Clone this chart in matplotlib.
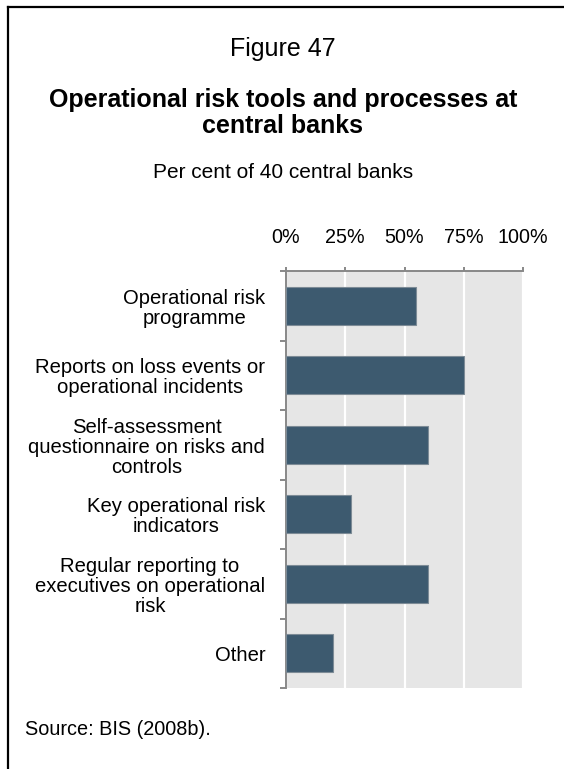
import matplotlib
matplotlib.use("Agg")
import matplotlib.pyplot as plt
from matplotlib.lines import Line2D

plt.rcParams['font.family'] = ['Liberation Sans', 'DejaVu Sans']

categories = [
    "Operational risk\nprogramme",
    "Reports on loss events or\noperational incidents",
    "Self-assessment\nquestionnaire on risks and\ncontrols",
    "Key operational risk\nindicators",
    "Regular reporting to\nexecutives on operational\nrisk",
    "Other",
]
shares = [55, 75, 60, 27.5, 60, 20]
tick_values = [0, 25, 50, 75, 100]
tick_labels = ["0%", "25%", "50%", "75%", "100%"]

W, H = 564, 769
fig = plt.figure(figsize=(W / 100, H / 100), dpi=100)

# plot area in pixel coordinates
left_px, right_px, top_px, bottom_px = 286, 523, 271, 688
ax = fig.add_axes([left_px / W, 1 - bottom_px / H,
                   (right_px - left_px) / W, (bottom_px - top_px) / H])

ax.set_facecolor('#e6e6e6')
ypos = list(range(len(categories)))
ax.barh(ypos, shares, height=0.54, color='#3d5a6f', edgecolor='#7d8b96',
        linewidth=0.8, zorder=3)

ax.set_xlim(0, 100)
ax.set_ylim(len(categories) - 0.5, -0.5)

ax.xaxis.tick_top()
ax.set_xticks(tick_values)
ax.set_xticklabels(tick_labels, fontsize=14.2)
ax.tick_params(axis='x', which='major', direction='out', length=3, width=1.4,
               color='#888888', pad=14.2, labelcolor='black')
ax.grid(axis='x', color='white', linewidth=1.6, zorder=1)
ax.set_axisbelow(True)

ax.set_yticks(ypos)
ax.set_yticklabels(categories, fontsize=14.6, ha='right',
                   multialignment='center', linespacing=1.08)
ax.tick_params(axis='y', which='major', length=0, pad=15)
ax.set_yticks([y - 0.5 for y in ypos] + [len(categories) - 0.5], minor=True)
ax.tick_params(axis='y', which='minor', direction='out', length=4.3, width=1.4,
               color='#888888')

for side in ('right', 'bottom'):
    ax.spines[side].set_visible(False)
for side in ('top', 'left'):
    ax.spines[side].set_color('#888888')
    ax.spines[side].set_linewidth(1.4)

cx = 283 / W
fig.text(cx, 1 - 56 / H, "Figure 47", ha='center', va='baseline', fontsize=18)
fig.text(cx, 1 - 107 / H, "Operational risk tools and processes at",
         ha='center', va='baseline', fontsize=18, fontweight='bold')
fig.text(cx, 1 - 133 / H, "central banks",
         ha='center', va='baseline', fontsize=18, fontweight='bold')
fig.text(cx, 1 - 178 / H, "Per cent of 40 central banks", ha='center',
         va='baseline', fontsize=15)
fig.text(25 / W, 1 - 735 / H, "Source: BIS (2008b).", ha='left', va='baseline',
         fontsize=14.3)

# frame lines along the top and left edges
fig.add_artist(Line2D([8 / W, 1], [1 - 7 / H, 1 - 7 / H], color='black',
                      linewidth=1.6, transform=fig.transFigure))
fig.add_artist(Line2D([8 / W, 8 / W], [1 - 7 / H, 0], color='black',
                      linewidth=1.6, transform=fig.transFigure))

fig.savefig("out.png", dpi=100)
